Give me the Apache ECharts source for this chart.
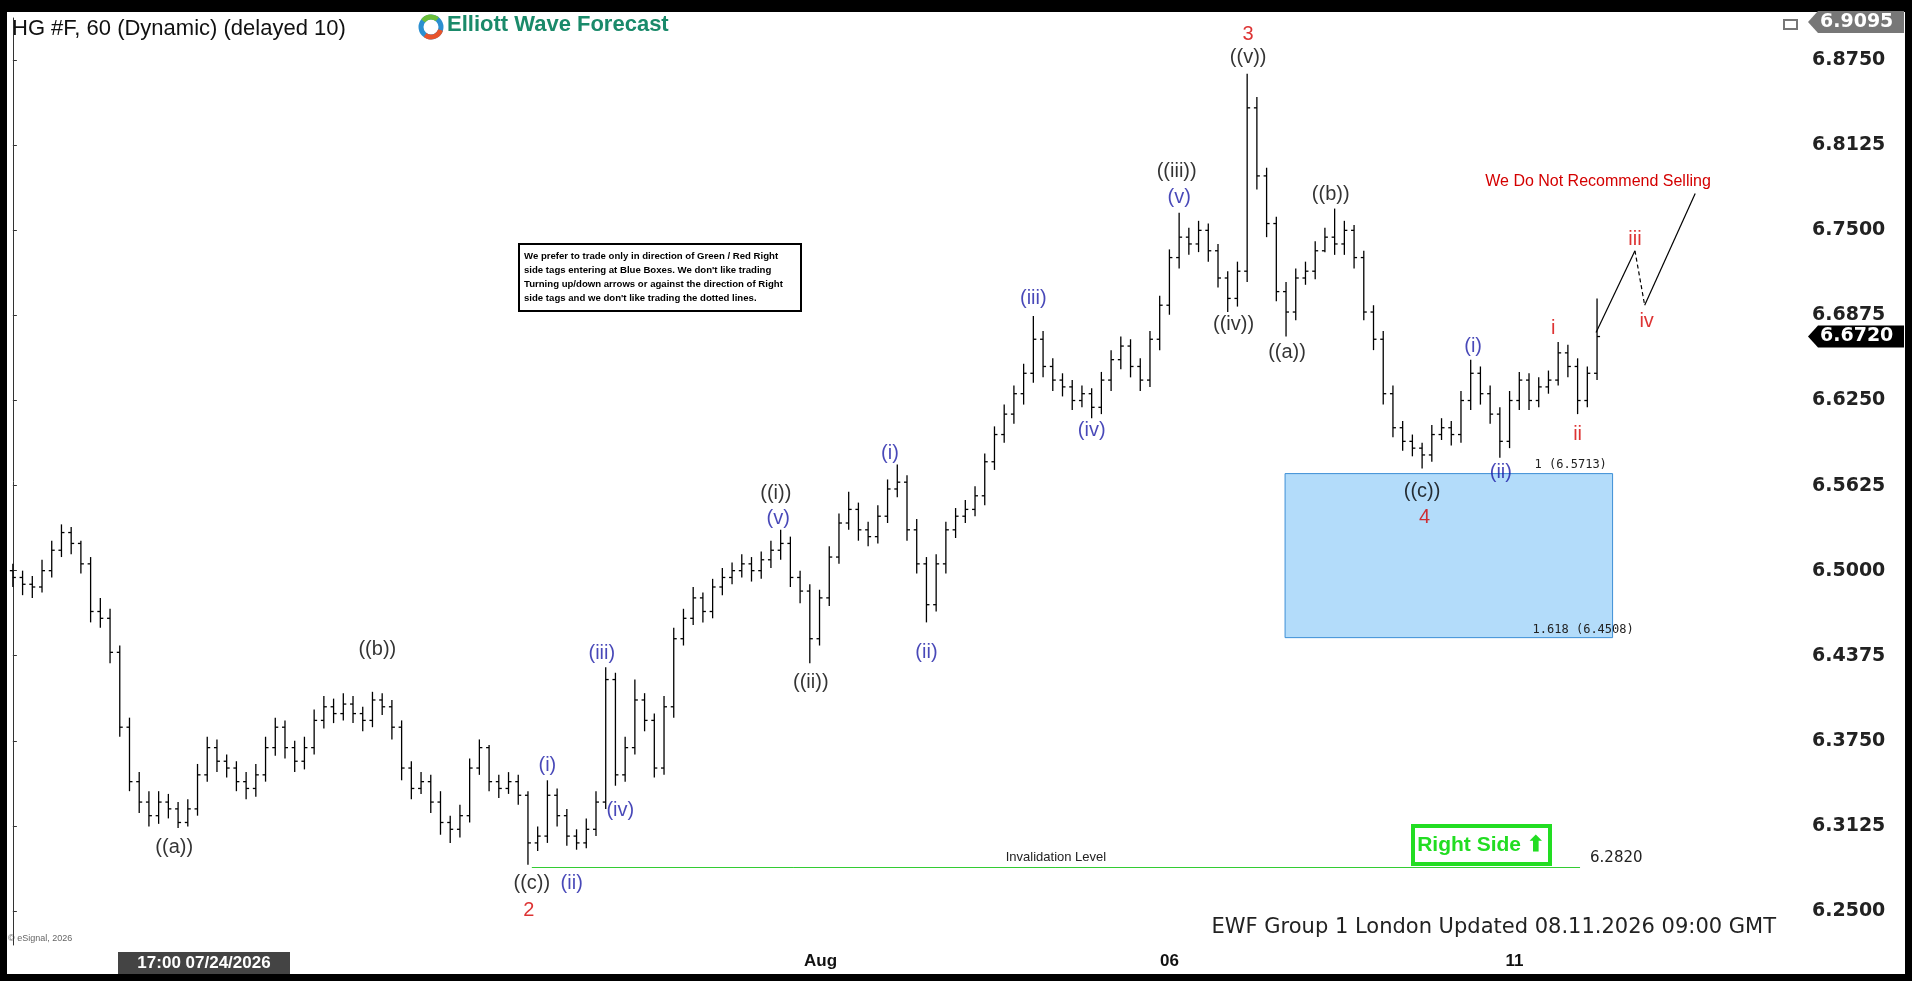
<!DOCTYPE html>
<html>
<head>
<meta charset="utf-8">
<script src="https://cdn.jsdelivr.net/npm/echarts@6/dist/echarts.min.js"></script>
<style>
html,body{margin:0;padding:0;background:#000;}
#main{width:1912px;height:981px;}
</style>
</head>
<body>
<div id="main"></div>
<script>
// hourly bars, open = previous close
var closes = [
6.495,6.490,6.488,6.500,6.515,6.528,6.520,6.505,6.470,6.465,
6.440,6.385,6.345,6.330,6.320,6.330,6.325,6.315,6.325,6.350,
6.370,6.360,6.355,6.345,6.340,6.350,6.370,6.385,6.370,6.360,
6.370,6.390,6.400,6.395,6.402,6.395,6.390,6.405,6.400,6.385,
6.355,6.340,6.345,6.330,6.315,6.310,6.320,6.355,6.370,6.345,
6.340,6.345,6.335,6.300,6.305,6.335,6.320,6.305,6.300,6.310,
6.330,6.420,6.350,6.370,6.405,6.390,6.355,6.400,6.450,6.465,
6.480,6.470,6.488,6.495,6.500,6.505,6.500,6.508,6.515,6.520,
6.495,6.485,6.450,6.480,6.510,6.535,6.545,6.530,6.525,6.540,
6.560,6.565,6.530,6.505,6.475,6.505,6.530,6.540,6.545,6.555,
6.580,6.600,6.615,6.630,6.645,6.670,6.650,6.640,6.635,6.625,
6.630,6.620,6.640,6.655,6.665,6.650,6.640,6.670,6.695,6.730,
6.745,6.740,6.750,6.735,6.715,6.700,6.720,6.840,6.790,6.755,
6.705,6.690,6.715,6.720,6.735,6.745,6.740,6.750,6.730,6.690,
6.670,6.630,6.605,6.595,6.590,6.585,6.600,6.605,6.600,6.625,
6.645,6.630,6.615,6.595,6.625,6.640,6.625,6.635,6.640,6.660,
6.650,6.625,6.645,6.672];
var highs = [
6.505,6.500,6.496,6.508,6.522,6.534,6.532,6.522,6.510,6.480,
6.472,6.445,6.392,6.352,6.338,6.338,6.336,6.330,6.332,6.358,
6.378,6.376,6.365,6.360,6.352,6.358,6.378,6.392,6.390,6.375,
6.378,6.398,6.408,6.406,6.410,6.408,6.400,6.411,6.410,6.405,
6.390,6.360,6.352,6.350,6.338,6.320,6.328,6.362,6.376,6.372,
6.350,6.352,6.350,6.338,6.312,6.346,6.340,6.325,6.310,6.318,
6.338,6.429,6.425,6.378,6.420,6.410,6.395,6.408,6.458,6.472,
6.488,6.484,6.494,6.502,6.506,6.512,6.510,6.514,6.522,6.530,
6.525,6.500,6.490,6.486,6.518,6.542,6.558,6.550,6.536,6.548,
6.567,6.578,6.570,6.538,6.510,6.512,6.536,6.546,6.552,6.562,
6.586,6.606,6.622,6.636,6.652,6.687,6.676,6.656,6.645,6.640,
6.636,6.634,6.646,6.662,6.672,6.670,6.656,6.676,6.702,6.736,
6.763,6.752,6.757,6.755,6.740,6.720,6.727,6.865,6.848,6.796,
6.760,6.712,6.722,6.727,6.742,6.752,6.766,6.757,6.754,6.735,
6.695,6.676,6.636,6.610,6.600,6.594,6.607,6.612,6.610,6.632,
6.655,6.650,6.636,6.620,6.632,6.646,6.645,6.642,6.647,6.668,
6.666,6.656,6.650,6.700];
var lows = [
6.488,6.482,6.480,6.484,6.495,6.510,6.512,6.498,6.462,6.458,
6.432,6.378,6.338,6.322,6.312,6.314,6.318,6.311,6.312,6.320,
6.345,6.352,6.348,6.338,6.332,6.334,6.345,6.364,6.362,6.352,
6.354,6.365,6.384,6.388,6.390,6.388,6.382,6.385,6.394,6.376,
6.346,6.332,6.336,6.322,6.306,6.300,6.304,6.315,6.350,6.338,
6.333,6.336,6.328,6.284,6.294,6.300,6.312,6.298,6.295,6.296,
6.305,6.325,6.342,6.345,6.365,6.382,6.348,6.350,6.392,6.445,
6.460,6.462,6.465,6.482,6.490,6.495,6.492,6.494,6.502,6.508,
6.488,6.476,6.432,6.445,6.474,6.505,6.530,6.522,6.518,6.520,
6.535,6.554,6.522,6.498,6.462,6.470,6.498,6.524,6.535,6.540,
6.548,6.574,6.594,6.608,6.622,6.638,6.642,6.632,6.628,6.618,
6.620,6.612,6.615,6.632,6.648,6.642,6.632,6.635,6.662,6.688,
6.722,6.732,6.734,6.727,6.708,6.690,6.694,6.712,6.780,6.745,
6.698,6.672,6.684,6.710,6.714,6.734,6.732,6.732,6.722,6.684,
6.662,6.622,6.598,6.588,6.584,6.575,6.580,6.596,6.592,6.594,
6.618,6.622,6.608,6.583,6.590,6.618,6.618,6.620,6.630,6.636,
6.642,6.615,6.620,6.640];
var firstOpen = 6.500;

var yTicks = [6.2500, 6.3125, 6.3750, 6.4375, 6.5000, 6.5625, 6.6250, 6.6875, 6.7500, 6.8125, 6.8750];
var xTickPos = [83.1, 119, 154.5];
var xTickText = ['Aug', '06', '11'];

// wave labels: [barIndex, price, text, colour]
var black = '#000', blue = '#1a1aa6', red = '#d40000';
var waveLabels = [
  [16.6, 6.297, '((a))', black], [37.5, 6.442, '((b))', black], [53.4, 6.270, '((c))', black],
  [53.1, 6.250, '2', red], [55, 6.357, '(i)', blue], [57.5, 6.270, '(ii)', blue],
  [60.6, 6.439, '(iii)', blue], [62.5, 6.324, '(iv)', blue], [78.75, 6.538, '(v)', blue],
  [78.5, 6.557, '((i))', black], [82.1, 6.418, '((ii))', black], [90.25, 6.586, '(i)', blue],
  [94, 6.440, '(ii)', blue], [105, 6.700, '(iii)', blue], [111, 6.603, '(iv)', blue],
  [120, 6.774, '(v)', blue], [119.75, 6.793, '((iii))', black], [125.6, 6.681, '((iv))', black],
  [127.1, 6.894, '3', red], [127.1, 6.877, '((v))', black], [131.1, 6.660, '((a))', black],
  [135.6, 6.776, '((b))', black], [145, 6.558, '((c))', black], [145.25, 6.539, '4', red],
  [150.25, 6.665, '(i)', blue], [153.1, 6.572, '(ii)', blue], [158.5, 6.678, 'i', red],
  [161, 6.600, 'ii', red], [166.9, 6.743, 'iii', red], [168.1, 6.683, 'iv', red]
];
var projSolid1 = [[162.9, 6.675], [166.9, 6.735]];
var projDash = [[166.9, 6.735], [167.9, 6.695]];
var projSolid2 = [[167.9, 6.695], [173.1, 6.777]];
var boxX = [130.9, 164.6];
var boxY = [6.5713, 6.4508];
var invalidX = [53.4, 161.25];
var invalidLevel = 6.2820;
var lastPrice = 6.6720, topPrice = 6.9095;

var bars = closes.map(function (c, i) {
  return [i, i === 0 ? firstOpen : closes[i - 1], c, lows[i], highs[i]];
});

var chart = echarts.init(document.getElementById('main'));
var option = {
  backgroundColor: '#fff',
  animation: false,
  grid: { left: 8, right: 106, top: 18, bottom: 36 },
  xAxis: {
    type: 'value', min: -0.5, max: 184.5,
    axisLine: { show: false }, splitLine: { show: false },
    axisTick: { show: false },
    axisLabel: {
      customValues: xTickPos, color: '#111', fontSize: 17, fontWeight: 'bold',
      fontFamily: 'Liberation Sans', margin: 8,
      formatter: function (v) {
        for (var k = 0; k < xTickPos.length; k++) if (Math.abs(xTickPos[k] - v) < 0.01) return xTickText[k];
        return '';
      }
    }
  },
  yAxis: {
    type: 'value', position: 'right', min: 6.225, max: 6.906,
    axisLine: { show: true, lineStyle: { color: '#333', width: 1 } },
    splitLine: { show: false },
    axisTick: { show: true, customValues: yTicks, length: 4, lineStyle: { color: '#333' } },
    axisLabel: {
      customValues: yTicks, color: '#222', fontSize: 19, fontWeight: 'bold',
      fontFamily: 'DejaVu Sans', margin: 6,
      formatter: function (v) { return v.toFixed(4); }
    }
  },
  series: [
    {
      type: 'custom',
      data: bars,
      renderItem: function (params, api) {
        var x = api.value(0);
        var o = api.coord([x, api.value(1)]);
        var c = api.coord([x, api.value(2)]);
        var l = api.coord([x, api.value(3)]);
        var h = api.coord([x, api.value(4)]);
        var st = { stroke: '#000', lineWidth: 1.3 };
        return {
          type: 'group', children: [
            { type: 'line', shape: { x1: h[0], y1: h[1], x2: l[0], y2: l[1] }, style: st },
            { type: 'line', shape: { x1: o[0] - 3, y1: o[1], x2: o[0], y2: o[1] }, style: st },
            { type: 'line', shape: { x1: c[0], y1: c[1], x2: c[0] + 3, y2: c[1] }, style: st }
          ]
        };
      },
      markArea: {
        silent: true,
        itemStyle: { color: '#b3dcfa', borderColor: '#3d8fd6', borderWidth: 1 },
        data: [[{ coord: [boxX[0], boxY[0]] }, { coord: [boxX[1], boxY[1]] }]]
      },
      markLine: {
        silent: true, symbol: 'none',
        lineStyle: { color: '#33cc33', width: 1, type: 'solid' },
        label: { show: true, position: 'middle', formatter: 'Invalidation Level', color: '#222', fontSize: 13, fontFamily: 'Liberation Sans', distance: 3 },
        data: [[{ coord: [invalidX[0], invalidLevel] }, { coord: [invalidX[1], invalidLevel] }]]
      }
    },
    {
      type: 'scatter', symbolSize: 0, silent: true,
      data: waveLabels.map(function (d) {
        return {
          value: [d[0], d[1]],
          label: { show: true, formatter: d[2], color: d[3], position: 'inside', fontSize: 20, fontFamily: 'Liberation Sans' }
        };
      })
    },
    { type: 'line', data: projSolid1, symbol: 'none', lineStyle: { color: '#000', width: 1.2 } },
    { type: 'line', data: projDash, symbol: 'none', lineStyle: { color: '#000', width: 1.2, type: [4, 3] } },
    { type: 'line', data: projSolid2, symbol: 'none', lineStyle: { color: '#000', width: 1.2 } }
  ]
};
chart.setOption(option);

function px(x, y) { return chart.convertToPixel({ gridIndex: 0 }, [x, y]); }
var pLast = px(0, lastPrice);
var topY = 22;
var pBoxTop = px(boxX[1], boxY[0]), pBoxBot = px(boxX[1], boxY[1]);
var pInv = px(invalidX[1], invalidLevel);
var pNote = px(163.1, 6.786);
var axisX = 1806;
var narrow = 'Liberation Sans';

chart.setOption({
  graphic: [
    { type: 'rect', shape: { x: 3, y: 3, width: 1906, height: 975 }, style: { fill: 'none', stroke: '#000', lineWidth: 8 }, z: 100 },
    { type: 'rect', shape: { x: 0, y: 0, width: 1912, height: 12 }, style: { fill: '#000' }, z: 100 },
    { type: 'text', left: 12, top: 18, style: { text: 'HG #F, 60 (Dynamic) (delayed 10)', fontSize: 22, fill: '#111', fontFamily: 'Liberation Sans' } },
    { type: 'circle', shape: { cx: 431, cy: 27, r: 10 }, style: { fill: 'none', stroke: '#2b8fd0', lineWidth: 5 } },
    { type: 'arc', shape: { cx: 431, cy: 27, r: 10, startAngle: 0.3, endAngle: 2.2 }, style: { stroke: '#e8542c', lineWidth: 5, fill: 'none' } },
    { type: 'arc', shape: { cx: 431, cy: 27, r: 10, startAngle: 3.8, endAngle: 5.4 }, style: { stroke: '#6cbf3b', lineWidth: 5, fill: 'none' } },
    { type: 'text', left: 447, top: 14, style: { text: 'Elliott Wave Forecast', fontSize: 22, fontWeight: 'bold', fill: '#1a8a6a', fontFamily: 'Liberation Sans' } },
    { type: 'rect', shape: { x: 519, y: 244, width: 282, height: 67 }, style: { fill: '#fff', stroke: '#000', lineWidth: 2 } },
    { type: 'text', left: 524, top: 249, style: { text: 'We prefer to trade only in direction of Green / Red Right\nside tags entering at Blue Boxes. We don\'t like trading\nTurning up/down arrows or against the direction of Right\nside tags and we don\'t like trading the dotted lines.', fontSize: 9.6, lineHeight: 14, fontWeight: 'bold', fill: '#000', fontFamily: narrow } },
    { type: 'text', x: pNote[0], y: pNote[1], style: { text: 'We Do Not Recommend Selling', fontSize: 16, fill: '#d40000', align: 'center', verticalAlign: 'middle', fontFamily: narrow } },
    { type: 'text', z: 20, x: pBoxTop[0] - 78, y: pBoxTop[1] - 3, style: { text: '1 (6.5713)', fontSize: 12, fill: '#222', verticalAlign: 'bottom', fontFamily: 'DejaVu Sans Mono' } },
    { type: 'text', z: 20, x: pBoxBot[0] - 80, y: pBoxBot[1] - 2, style: { text: '1.618 (6.4508)', fontSize: 12, fill: '#222', verticalAlign: 'bottom', fontFamily: 'DejaVu Sans Mono' } },
    { type: 'text', x: pInv[0] + 10, y: pInv[1] - 2, style: { text: '6.2820', fontSize: 15, fill: '#222', verticalAlign: 'bottom', fontFamily: 'DejaVu Sans' } },
    { type: 'rect', shape: { x: 1413, y: 826, width: 137, height: 38 }, style: { fill: '#fff', stroke: '#22dd22', lineWidth: 4 } },
    { type: 'text', x: 1481, y: 845, style: { text: 'Right Side ⬆', fontSize: 21, fontWeight: 'bold', fill: '#22dd22', align: 'center', verticalAlign: 'middle', fontFamily: narrow } },
    { type: 'text', x: 1776, y: 928, style: { text: 'EWF Group 1 London Updated 08.11.2026 09:00 GMT', fontSize: 21, fill: '#222', align: 'right', verticalAlign: 'middle', fontFamily: 'DejaVu Sans', textShadowColor: '#999', textShadowOffsetX: 1, textShadowOffsetY: 1 } },
    { type: 'text', x: 8, y: 939, style: { text: '© eSignal, 2026', fontSize: 9, fill: '#666', verticalAlign: 'middle', fontFamily: 'Liberation Sans' } },
    { type: 'rect', shape: { x: 118, y: 952, width: 172, height: 22 }, style: { fill: '#444' } },
    { type: 'text', x: 204, y: 963, style: { text: '17:00 07/24/2026', fontSize: 17, fontWeight: 'bold', fill: '#fff', align: 'center', verticalAlign: 'middle', fontFamily: 'Liberation Sans' } },
    { type: 'polygon', z: 110, shape: { points: [[axisX + 2, topY], [axisX + 12, topY - 11], [1904, topY - 11], [1904, topY + 11], [axisX + 12, topY + 11]] }, style: { fill: '#777' } },
    { type: 'text', z: 111, x: axisX + 14, y: topY, style: { text: topPrice.toFixed(4), fontSize: 19, fontWeight: 'bold', fill: '#fff', verticalAlign: 'middle', fontFamily: 'DejaVu Sans' } },
    { type: 'polygon', shape: { points: [[axisX + 2, pLast[1]], [axisX + 12, pLast[1] - 11], [1904, pLast[1] - 11], [1904, pLast[1] + 11], [axisX + 12, pLast[1] + 11]] }, style: { fill: '#000' } },
    { type: 'text', x: axisX + 14, y: pLast[1], style: { text: lastPrice.toFixed(4), fontSize: 19, fontWeight: 'bold', fill: '#fff', verticalAlign: 'middle', fontFamily: 'DejaVu Sans' } },
    { type: 'rect', shape: { x: 1784, y: 20, width: 13, height: 9 }, style: { fill: '#fff', stroke: '#777', lineWidth: 2 } }
  ]
});
</script>
</body>
</html>
